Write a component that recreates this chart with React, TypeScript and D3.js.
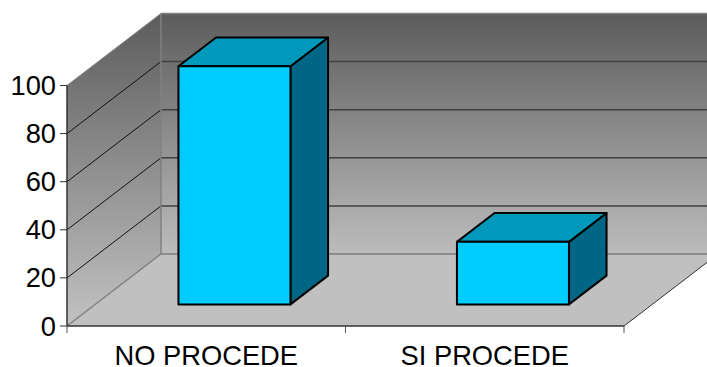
import React from "react";
import * as d3 from "d3";

const categories = ["NO PROCEDE", "SI PROCEDE"];
const seriesValues = [99, 26];
const yTicks = [0, 20, 40, 60, 80, 100];

const WIDTH = 707;
const HEIGHT = 367;
const DEPTH_X = 94;
const DEPTH_Y = -72;

const x = d3.scaleBand<string>().domain(categories).range([67, 624]).paddingInner(0).paddingOuter(0);
const y = d3.scaleLinear().domain([0, 100]).range([326, 85.5]);

// Oblique projection: d = 0 is the front of the plot box, d = 1 the back wall.
const px = (xv: number, d: number) => xv + DEPTH_X * d;
const py = (v: number, d: number) => y(v) + DEPTH_Y * d;

const poly = (pts: [number, number][]) => (d3.line()(pts) ?? "") + "Z";

const BAR_WIDTH = 112;
const BAR_D0 = 0.3;
const BAR_D1 = 0.7;

const FONT = "'Liberation Sans', Arial, sans-serif";

export default function App() {
  const x0 = x.range()[0];
  const x1 = x.range()[1];
  return (
    <svg
      width={WIDTH}
      height={HEIGHT}
      viewBox={`0 0 ${WIDTH} ${HEIGHT}`}
      style={{ position: "absolute", left: 0, top: 0, display: "block" }}
      fontFamily={FONT}
    >
      <defs>
        <linearGradient id="backWall" gradientUnits="userSpaceOnUse" x1="0" x2="0" y1={py(100, 1)} y2={py(0, 1)}>
          <stop offset="0" stopColor="#5c5c5c" />
          <stop offset="1" stopColor="#bcbcbc" />
        </linearGradient>
        <linearGradient id="sideWall" gradientUnits="userSpaceOnUse" x1="0" x2="0" y1={py(100, 1)} y2={y(0)}>
          <stop offset="0" stopColor="#5c5c5c" />
          <stop offset="1" stopColor="#c2c2c2" />
        </linearGradient>
      </defs>

      {/* floor, walls */}
      <path
        d={poly([[px(x0, 0), py(0, 0)], [px(x1, 0), py(0, 0)], [px(x1, 1), py(0, 1)], [px(x0, 1), py(0, 1)]])}
        fill="#c0c0c0"
      />
      <path
        d={poly([[px(x0, 1), py(100, 1)], [px(x1, 1) + 20, py(100, 1)], [px(x1, 1) + 20, py(0, 1)], [px(x0, 1), py(0, 1)]])}
        fill="url(#backWall)"
      />
      <path
        d={poly([[px(x0, 0), py(100, 0)], [px(x0, 1), py(100, 1)], [px(x0, 1), py(0, 1)], [px(x0, 0), py(0, 0)]])}
        fill="url(#sideWall)"
      />

      {/* gridlines on both walls */}
      {yTicks.slice(1, -1).map((t) => (
        <g key={t}>
          <line x1={px(x0, 0)} y1={py(t, 0)} x2={px(x0, 1)} y2={py(t, 1)} stroke="#111" strokeWidth={1} />
          <line x1={px(x0, 1)} y1={py(t, 1)} x2={WIDTH} y2={py(t, 1)} stroke="#404040" strokeWidth={1.5} />
        </g>
      ))}

      {/* box edges */}
      <line x1={px(x0, 1)} y1={py(0, 1)} x2={WIDTH} y2={py(0, 1)} stroke="#7c7c7c" strokeWidth={1.5} />
      <line x1={px(x0, 1)} y1={py(100, 1)} x2={WIDTH} y2={py(100, 1)} stroke="#808080" strokeWidth={1.5} />
      <line x1={px(x0, 1)} y1={py(100, 1)} x2={px(x0, 1)} y2={py(0, 1)} stroke="#808080" strokeWidth={1.5} />
      <line x1={px(x0, 0)} y1={py(100, 0)} x2={px(x0, 1)} y2={py(100, 1)} stroke="#808080" strokeWidth={1} />
      <line x1={px(x0, 0)} y1={py(0, 0)} x2={px(x0, 1)} y2={py(0, 1)} stroke="#808080" strokeWidth={1.5} />
      <line x1={px(x1, 0)} y1={py(0, 0)} x2={px(x1, 1)} y2={py(0, 1)} stroke="#333" strokeWidth={1} />

      {/* bars */}
      {categories.map((c, i) => {
        const cx = (x(c) ?? 0) + x.bandwidth() / 2;
        const l0 = px(cx - BAR_WIDTH / 2, BAR_D0);
        const r0 = px(cx + BAR_WIDTH / 2, BAR_D0);
        const l1 = px(cx - BAR_WIDTH / 2, BAR_D1);
        const r1 = px(cx + BAR_WIDTH / 2, BAR_D1);
        const v = seriesValues[i];
        const top0 = py(v, BAR_D0);
        const top1 = py(v, BAR_D1);
        const bot0 = py(0, BAR_D0);
        const bot1 = py(0, BAR_D1);
        const edge = { stroke: "#000", strokeWidth: 2, strokeLinejoin: "round" as const };
        return (
          <g key={c}>
            <path d={poly([[r0, top0], [r1, top1], [r1, bot1], [r0, bot0]])} fill="#006685" {...edge} />
            <path d={poly([[l0, top0], [l1, top1], [r1, top1], [r0, top0]])} fill="#0099bb" {...edge} />
            <path d={poly([[l0, top0], [r0, top0], [r0, bot0], [l0, bot0]])} fill="#00ccff" {...edge} />
          </g>
        );
      })}

      {/* axes */}
      <line x1={x0} y1={y(100)} x2={x0} y2={y(0)} stroke="#333" strokeWidth={1.5} />
      <line x1={x0} y1={y(0)} x2={x1} y2={y(0)} stroke="#333" strokeWidth={1.5} />
      {yTicks.map((t) => (
        <g key={t}>
          <line x1={x0 - 7} y1={y(t)} x2={x0} y2={y(t)} stroke="#333" strokeWidth={1} />
          <text x={56} y={y(t) + 9.5} textAnchor="end" fontSize={27.3} fill="#000">
            {t}
          </text>
        </g>
      ))}
      {[x0, x0 + x.bandwidth(), x1].map((t) => (
        <line key={t} x1={t} y1={y(0)} x2={t} y2={y(0) + 7} stroke="#555" strokeWidth={1} />
      ))}
      {categories.map((c) => (
        <text
          key={c}
          x={(x(c) ?? 0) + x.bandwidth() / 2}
          y={365}
          textAnchor="middle"
          fontSize={27.3}
          fill="#000"
        >
          {c}
        </text>
      ))}
    </svg>
  );
}
